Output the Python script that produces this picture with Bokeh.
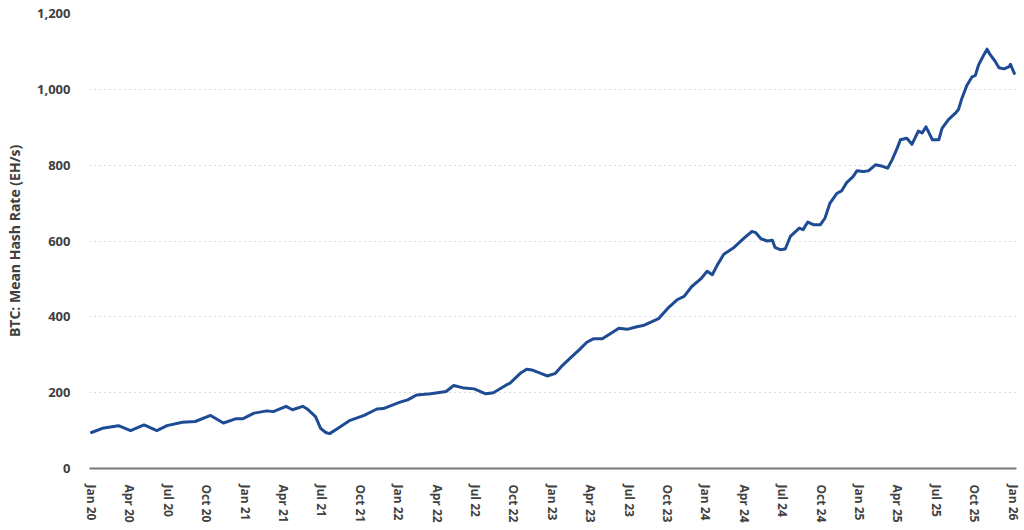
from bokeh.plotting import figure
from bokeh.models import Range1d, FixedTicker, NumeralTickFormatter
from bokeh.embed import file_html
from bokeh.resources import INLINE

# x: months since Jan 2020
months = [0.0, 0.84, 2.1, 3.05, 4.1, 5.1, 5.9, 7.1, 8.1, 9.3, 10.3, 11.25, 11.8,
          12.7, 13.7, 14.2, 15.2, 15.7, 16.5, 16.85, 17.5, 17.9, 18.3, 18.6, 19.2,
          20.2, 21.3, 22.3, 22.8, 23.4, 24.1, 24.7, 25.4, 26.5, 27.3, 27.7, 28.3,
          29.1, 29.9, 30.8, 31.4, 32.5, 32.7, 33.5, 34.0, 34.4, 35.1, 35.6, 36.25,
          36.8, 37.4, 38.1, 38.7, 39.2, 39.9, 40.5, 41.2, 41.85, 42.6, 43.1, 43.7,
          44.3, 45.1, 45.75, 46.3, 46.9, 47.6, 48.1, 48.5, 48.9, 49.4, 50.2, 50.96,
          51.6, 51.9, 52.3, 52.8, 53.2, 53.4, 53.8, 54.2, 54.6, 55.3, 55.6, 55.96,
          56.4, 56.95, 57.3, 57.7, 58.25, 58.6, 59.0, 59.5, 59.8, 60.3, 60.7, 61.25,
          61.8, 62.2, 62.55, 62.95, 63.2, 63.7, 64.1, 64.6, 64.9, 65.2, 65.7, 66.2,
          66.45, 66.95, 67.5, 67.75, 68.0, 68.4, 68.8, 69.06, 69.3, 69.7, 69.97,
          70.2, 70.6, 70.9, 71.3, 71.7, 71.8, 72.1]

hash_rate = [95, 106, 113, 100, 115, 100, 113, 122, 124, 140, 120, 131, 131,
             146, 152, 150, 164, 155, 164, 157, 137, 106, 95, 92, 105,
             127, 140, 157, 158, 166, 175, 181, 194, 197, 201, 203, 219,
             212, 210, 197, 200, 222, 225, 251, 262, 260, 251, 244, 251,
             272, 291, 313, 333, 342, 342, 355, 370, 367, 374, 377, 386,
             395, 425, 445, 454, 480, 500, 520, 511, 537, 565, 583, 607,
             625, 622, 606, 600, 602, 583, 577, 579, 612, 634, 630, 650,
             643, 643, 660, 700, 726, 732, 754, 770, 785, 783, 785, 801,
             797, 792, 814, 845, 867, 871, 855, 890, 885, 901, 867, 867,
             897, 920, 937, 948, 976, 1011, 1033, 1037, 1064, 1090, 1106,
             1092, 1074, 1057, 1054, 1060, 1066, 1042]

tick_months = list(range(0, 73, 3))
tick_labels = ["Jan 20", "Apr 20", "Jul 20", "Oct 20",
               "Jan 21", "Apr 21", "Jul 21", "Oct 21",
               "Jan 22", "Apr 22", "Jul 22", "Oct 22",
               "Jan 23", "Apr 23", "Jul 23", "Oct 23",
               "Jan 24", "Apr 24", "Jul 24", "Oct 24",
               "Jan 25", "Apr 25", "Jul 25", "Oct 25",
               "Jan 26"]
y_ticks = [0, 200, 400, 600, 800, 1000, 1200]

FONT = "Open Sans"
TXT = "#404040"

p = figure(width=1024, height=530, output_backend="svg", toolbar_location=None,
           x_range=Range1d(-0.16, 72.27), y_range=Range1d(0, 1200),
           min_border_left=89, min_border_right=8, min_border_top=13,
           min_border_bottom=62)
p.outline_line_color = None
p.background_fill_color = "white"

p.line(months, hash_rate, line_color="#1f4b94", line_width=3,
       line_join="round", line_cap="round")

# x axis
p.xaxis.ticker = FixedTicker(ticks=tick_months)
p.xaxis.major_label_overrides = {m: l for m, l in zip(tick_months, tick_labels)}
p.xaxis.major_label_orientation = "vertical"
p.xaxis.major_tick_line_color = None
p.xaxis.minor_tick_line_color = None
p.xaxis.axis_line_color = "#777777"
p.xaxis.axis_line_width = 2
p.xaxis.major_label_standoff = 10
p.xaxis.major_label_text_font = FONT
p.xaxis.major_label_text_font_style = "bold"
p.xaxis.major_label_text_font_size = "12px"
p.xaxis.major_label_text_color = TXT

# y axis
p.yaxis.ticker = FixedTicker(ticks=y_ticks)
p.yaxis.formatter = NumeralTickFormatter(format="0,0")
p.yaxis.axis_line_color = None
p.yaxis.major_tick_line_color = None
p.yaxis.minor_tick_line_color = None
p.yaxis.major_label_standoff = 13
p.yaxis.major_label_text_font = FONT
p.yaxis.major_label_text_font_style = "bold"
p.yaxis.major_label_text_font_size = "13px"
p.yaxis.major_label_text_color = TXT
p.yaxis.axis_label = "BTC: Mean Hash Rate (EH/s)"
p.yaxis.axis_label_text_font = FONT
p.yaxis.axis_label_text_font_style = "bold"
p.yaxis.axis_label_text_font_size = "14px"
p.yaxis.axis_label_text_color = TXT
p.yaxis.axis_label_standoff = 10

p.xgrid.grid_line_color = None
p.ygrid.grid_line_color = "#b8b8b8"
p.ygrid.grid_line_dash = "1 4"
p.ygrid.grid_line_width = 1.2

open("out.html", "w").write(file_html(p, INLINE))
